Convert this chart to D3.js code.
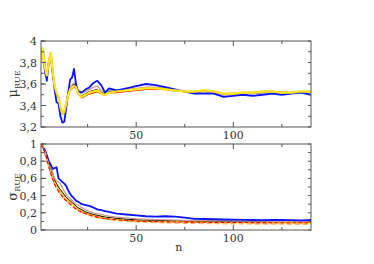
<!DOCTYPE html>
<html>
<head>
<meta charset="utf-8">
<script src="https://cdn.jsdelivr.net/npm/d3@7"></script>
<style>
  body { margin: 0; background: #fff; }
  .frame { fill: none; stroke: #555; stroke-width: 1; }
  .tick-line { stroke: #555; stroke-width: 1; }
</style>
</head>
<body>
<svg id="chart" width="374" height="264" font-family="'DejaVu Serif', 'Liberation Serif', serif" font-size="11" fill="#333"></svg>
<script>
// sample positions along n
const nValues = [1,2,3,4,5,6,7,8,9,10,11,12,13,14,15,16,17,18,19,20,22,24,26,28,30,32,34,36,40,45,50,55,60,65,70,75,80,85,90,95,100,105,110,115,120,125,130,135,140];

// mu_RUE (top panel)
const muBlue   = [3.81,3.92,3.72,3.63,3.80,3.88,3.70,3.55,3.43,3.42,3.30,3.24,3.25,3.38,3.52,3.64,3.66,3.74,3.60,3.53,3.52,3.55,3.57,3.61,3.63,3.59,3.52,3.56,3.54,3.56,3.58,3.60,3.59,3.57,3.55,3.53,3.51,3.51,3.51,3.48,3.49,3.50,3.49,3.50,3.51,3.50,3.51,3.52,3.50];
const muBrown  = [3.80,3.92,3.74,3.66,3.80,3.88,3.72,3.58,3.51,3.47,3.37,3.32,3.33,3.43,3.52,3.57,3.59,3.61,3.59,3.55,3.52,3.53,3.55,3.57,3.58,3.54,3.52,3.54,3.54,3.55,3.56,3.57,3.57,3.56,3.54,3.53,3.52,3.53,3.52,3.50,3.50,3.51,3.51,3.52,3.52,3.52,3.52,3.52,3.52];
const muBlack  = [3.80,3.92,3.74,3.67,3.80,3.88,3.72,3.58,3.51,3.47,3.37,3.32,3.33,3.42,3.51,3.56,3.58,3.60,3.58,3.53,3.49,3.51,3.53,3.54,3.55,3.52,3.51,3.53,3.53,3.54,3.55,3.56,3.56,3.55,3.54,3.53,3.52,3.53,3.52,3.50,3.51,3.51,3.51,3.52,3.52,3.52,3.52,3.52,3.52];
const muRed    = [3.80,3.93,3.75,3.68,3.80,3.89,3.72,3.57,3.51,3.47,3.37,3.33,3.34,3.41,3.49,3.54,3.56,3.57,3.56,3.51,3.47,3.49,3.51,3.52,3.53,3.51,3.50,3.52,3.52,3.53,3.54,3.55,3.55,3.55,3.54,3.53,3.53,3.53,3.53,3.51,3.51,3.52,3.52,3.53,3.53,3.52,3.52,3.53,3.53];
const muOrange = [3.80,3.93,3.75,3.68,3.80,3.89,3.72,3.58,3.52,3.48,3.38,3.33,3.34,3.42,3.50,3.55,3.57,3.58,3.57,3.52,3.48,3.50,3.51,3.52,3.53,3.51,3.50,3.52,3.53,3.54,3.55,3.56,3.56,3.55,3.54,3.53,3.53,3.54,3.53,3.51,3.51,3.52,3.52,3.53,3.53,3.52,3.52,3.53,3.53];
const muYellow = [3.80,3.93,3.75,3.68,3.80,3.89,3.72,3.58,3.52,3.48,3.38,3.33,3.34,3.42,3.50,3.55,3.57,3.58,3.57,3.52,3.48,3.50,3.52,3.53,3.54,3.51,3.50,3.52,3.53,3.54,3.55,3.56,3.56,3.55,3.54,3.53,3.53,3.54,3.53,3.51,3.51,3.52,3.52,3.53,3.53,3.52,3.52,3.53,3.53];

// sigma_RUE (bottom panel)
const sdBlue   = [1.0,0.96,0.93,0.87,0.80,0.76,0.71,0.72,0.73,0.60,0.58,0.56,0.54,0.51,0.46,0.42,0.39,0.37,0.34,0.33,0.30,0.29,0.28,0.26,0.24,0.23,0.22,0.21,0.19,0.18,0.17,0.16,0.155,0.16,0.155,0.145,0.13,0.128,0.125,0.122,0.12,0.118,0.116,0.115,0.117,0.116,0.114,0.113,0.116];
const sdBrown  = [1.0,0.97,0.93,0.87,0.80,0.73,0.67,0.60,0.57,0.56,0.54,0.49,0.45,0.41,0.39,0.37,0.34,0.32,0.30,0.29,0.26,0.235,0.215,0.20,0.19,0.18,0.17,0.16,0.15,0.14,0.13,0.125,0.12,0.118,0.115,0.113,0.11,0.108,0.107,0.106,0.105,0.104,0.104,0.103,0.102,0.102,0.101,0.10,0.10];
const sdBlack  = [1.0,0.97,0.92,0.86,0.79,0.72,0.65,0.58,0.54,0.50,0.47,0.44,0.41,0.38,0.36,0.34,0.32,0.30,0.28,0.26,0.235,0.21,0.195,0.18,0.17,0.16,0.15,0.145,0.135,0.125,0.12,0.115,0.112,0.11,0.108,0.106,0.105,0.104,0.103,0.102,0.101,0.10,0.10,0.099,0.098,0.098,0.097,0.097,0.097];
const sdRed    = [1.0,0.96,0.90,0.82,0.74,0.66,0.59,0.53,0.49,0.45,0.42,0.39,0.36,0.34,0.32,0.30,0.28,0.26,0.245,0.23,0.205,0.19,0.175,0.16,0.15,0.14,0.133,0.127,0.118,0.11,0.105,0.10,0.097,0.095,0.093,0.092,0.091,0.09,0.089,0.088,0.087,0.087,0.086,0.086,0.085,0.085,0.085,0.084,0.084];
const sdOrange = [1.0,0.96,0.90,0.82,0.74,0.67,0.60,0.54,0.50,0.46,0.43,0.40,0.37,0.35,0.33,0.31,0.29,0.27,0.25,0.235,0.21,0.19,0.175,0.16,0.15,0.14,0.132,0.125,0.115,0.106,0.10,0.095,0.092,0.089,0.086,0.084,0.082,0.08,0.079,0.078,0.077,0.076,0.075,0.074,0.073,0.073,0.072,0.072,0.071];
const sdYellow = [1.0,0.97,0.91,0.84,0.76,0.69,0.62,0.56,0.52,0.48,0.45,0.42,0.39,0.36,0.34,0.32,0.30,0.28,0.26,0.245,0.22,0.20,0.185,0.17,0.16,0.15,0.142,0.135,0.125,0.115,0.11,0.106,0.103,0.10,0.098,0.096,0.094,0.093,0.092,0.091,0.09,0.089,0.088,0.088,0.087,0.087,0.086,0.086,0.086];

const muTicks = [3.2, 3.4, 3.6, 3.8, 4];
const sdTicks = [0, 0.2, 0.4, 0.6, 0.8, 1];
const nTicks = [50, 100];

const styles = {
  orange: { color: '#ffae5c', width: 2.2 },
  yellow: { color: '#ffe81a', width: 2.2 },
  red:    { color: '#ff0000', width: 1.1 },
  black:  { color: '#000000', width: 1 },
  brown:  { color: '#c49a92', width: 1.3 },
  blue:   { color: '#0a14ff', width: 1.8 }
};

const comma = d => String(d).replace('.', ',');

const chart = d3.select('#chart');
const x = d3.scaleLinear().domain([1, 140]).range([41, 311]);

function panel(id, top, bottom, domain, ticks, minorStep, series, dashed, label) {
  const y = d3.scaleLinear().domain(domain).range([bottom, top]);
  const g = chart.append('g');

  g.append('clipPath').attr('id', 'clip-' + id)
    .append('rect').attr('x', 41).attr('y', top).attr('width', 270).attr('height', bottom - top);

  const line = d3.line().x((d, i) => x(nValues[i])).y(d => y(d));
  const lines = g.append('g').attr('clip-path', `url(#clip-${id})`);
  // drawing order: back to front
  const order = dashed ? ['yellow', 'black', 'brown', 'blue', 'orange', 'red']
                       : ['orange', 'red', 'black', 'brown', 'blue', 'yellow'];
  order.forEach(key => {
    const s = styles[key];
    const dash = dashed && dashed[key];
    lines.append('path')
      .attr('d', line(series[key]))
      .attr('fill', 'none')
      .attr('stroke', s.color)
      .attr('stroke-width', s.width)
      .attr('stroke-dasharray', dash || null)
      .attr('stroke-linejoin', 'round');
  });

  // ticks, all pointing inward
  const minor = d3.range(domain[0], domain[1] + 1e-9, minorStep);
  const xt = d3.range(25, 140, 25);
  minor.forEach(v => {
    g.append('line').attr('class', 'tick-line').attr('x1', 41).attr('x2', 44).attr('y1', y(v)).attr('y2', y(v));
    g.append('line').attr('class', 'tick-line').attr('x1', 311).attr('x2', 308).attr('y1', y(v)).attr('y2', y(v));
  });
  ticks.forEach(v => {
    g.append('line').attr('class', 'tick-line').attr('x1', 41).attr('x2', 46).attr('y1', y(v)).attr('y2', y(v));
    g.append('text').attr('x', 37).attr('y', y(v) + 4).attr('text-anchor', 'end').text(comma(v));
  });
  xt.forEach(v => {
    const len = nTicks.includes(v) ? 5 : 3;
    g.append('line').attr('class', 'tick-line').attr('x1', x(v)).attr('x2', x(v)).attr('y1', top).attr('y2', top + len);
    g.append('line').attr('class', 'tick-line').attr('x1', x(v)).attr('x2', x(v)).attr('y1', bottom).attr('y2', bottom - len);
  });
  nTicks.forEach(v => {
    g.append('text').attr('x', x(v)).attr('y', bottom + 12).attr('text-anchor', 'middle').text(v);
  });

  g.append('rect').attr('class', 'frame')
    .attr('x', 41).attr('y', top).attr('width', 270).attr('height', bottom - top);

  const cy = (top + bottom) / 2;
  const t = g.append('text')
    .attr('transform', `translate(17,${cy}) rotate(-90)`)
    .attr('text-anchor', 'middle');
  t.append('tspan').attr('font-size', 13).text(label);
  t.append('tspan').attr('dy', 3).attr('font-size', 8).text('RUE');
  return y;
}

panel('mu', 41, 127, [3.2, 4], muTicks, 0.1,
  { blue: muBlue, brown: muBrown, black: muBlack, red: muRed, orange: muOrange, yellow: muYellow }, null, 'μ');
panel('sd', 144, 230, [0, 1], sdTicks, 0.1,
  { blue: sdBlue, brown: sdBrown, black: sdBlack, red: sdRed, orange: sdOrange, yellow: sdYellow },
  { orange: '5,3', red: '4,2' }, 'σ');

chart.append('text').attr('x', x(72)).attr('y', 251).attr('text-anchor', 'middle').text('n');
</script>
</body>
</html>
